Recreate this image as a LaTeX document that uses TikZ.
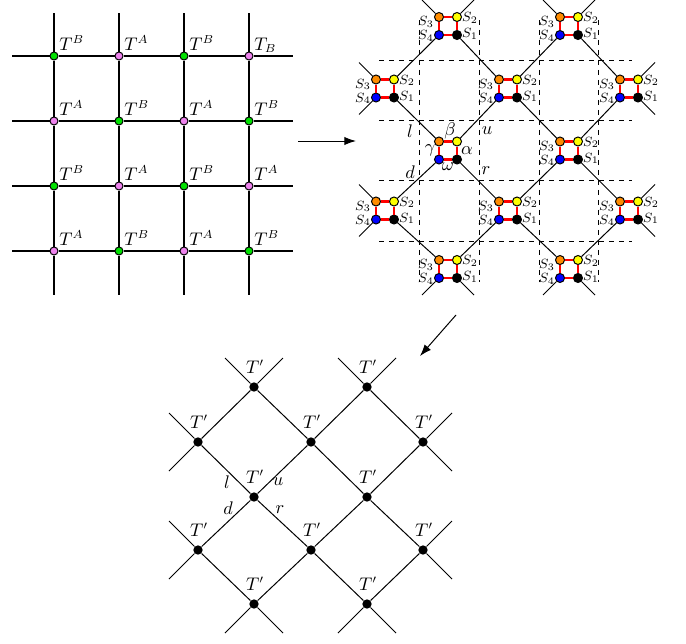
\documentclass[tikz,border=0pt]{standalone}
\usetikzlibrary{arrows.meta}
\definecolor{pinkc}{RGB}{238,130,238}
\definecolor{greenc}{RGB}{0,225,0}
\definecolor{orangec}{RGB}{255,140,0}
\definecolor{yellowc}{RGB}{255,255,0}
\begin{document}
\begin{tikzpicture}[x=0.6pt,y=-0.6pt,
  gline/.style={line width=0.75pt},
  lline/.style={line width=0.6pt},
  redl/.style={draw=red,line width=1.3pt},
  gnode/.style={circle,draw=black,line width=0.6pt,inner sep=0pt,minimum size=4.8pt},
  cnode/.style={circle,draw=black,line width=0.6pt,inner sep=0pt,minimum size=5.4pt},
  bnode/.style={circle,fill=black,inner sep=0pt,minimum size=5.6pt},
  tlab/.style={inner sep=0pt,anchor=base west,font=\fontsize{10.5}{12}\selectfont},
  plab/.style={inner sep=0pt,anchor=base,font=\fontsize{10.5}{12}\selectfont},
  glab/.style={inner sep=0pt,font=\fontsize{10.5}{12}\selectfont},
  slab/.style={inner sep=0pt,font=\footnotesize},
  dline/.style={dashed,line width=0.5pt},
  arr/.style={-{Latex[length=7pt,width=5pt]},line width=0.6pt}]
\useasboundingbox (0,0) rectangle (686,644);

% ---------- left grid ----------
\foreach \i/\x in {0/54,1/119,2/184,3/249}{
  \foreach \j/\y in {0/56,1/121,2/186,3/251}{
    \pgfmathtruncatemacro\p{mod(\i+\j,2)}
    \ifnum\p=0
      \node[gnode,fill=greenc] (g\i\j) at (\x,\y) {};
    \else
      \node[gnode,fill=pinkc] (g\i\j) at (\x,\y) {};
    \fi
  }
}
\foreach \j/\y in {0/56,1/121,2/186,3/251}{
  \coordinate (gl\j) at (12,\y);
  \coordinate (gr\j) at (293,\y);
  \draw[gline] (gl\j) -- (g0\j) -- (g1\j) -- (g2\j) -- (g3\j) -- (gr\j);
}
\foreach \i/\x in {0/54,1/119,2/184,3/249}{
  \coordinate (gt\i) at (\x,13);
  \coordinate (gb\i) at (\x,295);
  \draw[gline] (gt\i) -- (g\i0) -- (g\i1) -- (g\i2) -- (g\i3) -- (gb\i);
}
\foreach \n/\x/\y/\t in {00/54/56/T^B,10/119/56/T^A,20/184/56/T^B,30/249/56/T_B,
  01/54/121/T^A,11/119/121/T^B,21/184/121/T^A,31/249/121/T^B,
  02/54/186/T^B,12/119/186/T^A,22/184/186/T^B,32/249/186/T^A,
  03/54/251/T^A,13/119/251/T^B,23/184/251/T^A,33/249/251/T^B}{
  \node[tlab] (lg\n) at (\x+5,\y-6) {$\t$};
}

% ---------- arrows ----------
\coordinate (a1s) at (298,141);
\coordinate (a1e) at (356,141);
\draw[arr] (a1s) -- (a1e);
\coordinate (a2s) at (456,315);
\coordinate (a2e) at (420,356);
\draw[arr] (a2s) -- (a2e);

% ---------- top right: dashed grid ----------
\foreach \y in {60,120,180,241}{
  \coordinate (dhl\y) at (379,\y);
  \coordinate (dhr\y) at (632,\y);
  \draw[dline] (dhl\y) -- (dhr\y);
}
\foreach \x in {419,479,539,598}{
  \coordinate (dvt\x) at (\x,20);
  \coordinate (dvb\x) at (\x,282);
  \draw[dline] (dvt\x) -- (dvb\x);
}

% ---------- top right: clusters ----------
\foreach \n/\cx/\cy in {10/448/26,30/569/26,01/385/88.5,21/508/88.5,41/629/88.5,
  12/448/150.5,32/569/150.5,03/385/210.5,23/508/210.5,43/629/210.5,14/448/269,34/569/269}{
  \node[cnode,fill=orangec] (qo\n) at (\cx-9,\cy-9) {};
  \node[cnode,fill=yellowc] (qy\n) at (\cx+9,\cy-9) {};
  \node[cnode,fill=blue] (qb\n) at (\cx-9,\cy+9) {};
  \node[cnode,fill=black] (qk\n) at (\cx+9,\cy+9) {};
  \draw[redl] (qo\n) -- (qy\n);
  \draw[redl] (qy\n) -- (qk\n);
  \draw[redl] (qk\n) -- (qb\n);
  \draw[redl] (qb\n) -- (qo\n);
}
\foreach \n/\cx/\cy in {10/448/26,30/569/26,01/385/88.5,21/508/88.5,41/629/88.5,
  32/569/150.5,03/385/210.5,23/508/210.5,43/629/210.5,14/448/269,34/569/269}{
  \node[slab] (s3\n) at (\cx-22,\cy-4) {$S_3$};
  \node[slab] (s4\n) at (\cx-22,\cy+10) {$S_4$};
  \node[slab] (s2\n) at (\cx+22,\cy-8) {$S_2$};
  \node[slab] (s1\n) at (\cx+22,\cy+8) {$S_1$};
}
\foreach \a/\b in {10/21,30/41,01/12,21/32,12/23,32/43,03/14,23/34}{
  \draw[lline] (qk\a) -- (qo\b);
}
\foreach \a/\b in {01/10,21/30,12/21,32/41,03/12,23/32,14/23,34/43}{
  \draw[lline] (qy\a) -- (qb\b);
}
\foreach \n in {10,30,01,03}{
  \coordinate (fo\n) at ([shift={(-17,-17)}]qo\n.center);
  \draw[lline] (qo\n) -- (fo\n);
}
\foreach \n in {10,30,41,43}{
  \coordinate (fy\n) at ([shift={(17,-17)}]qy\n.center);
  \draw[lline] (qy\n) -- (fy\n);
}
\foreach \n in {01,03,14,34}{
  \coordinate (fb\n) at ([shift={(-17,17)}]qb\n.center);
  \draw[lline] (qb\n) -- (fb\n);
}
\foreach \n in {41,43,14,34}{
  \coordinate (fk\n) at ([shift={(17,17)}]qk\n.center);
  \draw[lline] (qk\n) -- (fk\n);
}
% central labels
\node[glab] (gbeta) at (450,131) {$\beta$};
\node[glab] (ggamma) at (430,150) {$\gamma$};
\node[glab] (galpha) at (467,151) {$\alpha$};
\node[glab] (gomega) at (448,167) {$\omega$};
\node[glab] (ql) at (410,131) {$l$};
\node[glab] (qu) at (487,131) {$u$};
\node[glab] (qd) at (410,172) {$d$};
\node[glab] (qr) at (486,171) {$r$};

% ---------- bottom ----------
\foreach \n/\x/\y in {10/254/387,30/367/387,01/198/442,21/311/442,41/423/442,
  12/254/497,32/367/497,03/198/550,23/311/550,43/423/550,14/254/604,34/367/604}{
  \node[bnode] (p\n) at (\x,\y) {};
  \node[plab] (pl\n) at (\x+1,\y-14) {$T'$};
}
\foreach \a/\b in {10/21,30/41,01/12,21/32,12/23,32/43,03/14,23/34,
  01/10,21/30,12/21,32/41,03/12,23/32,14/23,34/43}{
  \draw[lline] (p\a) -- (p\b);
}
\foreach \n in {10,30,01,03}{
  \coordinate (eo\n) at ([shift={(-29,-29)}]p\n.center);
  \draw[lline] (p\n) -- (eo\n);
}
\foreach \n in {10,30,41,43}{
  \coordinate (ey\n) at ([shift={(29,-29)}]p\n.center);
  \draw[lline] (p\n) -- (ey\n);
}
\foreach \n in {01,03,14,34}{
  \coordinate (eb\n) at ([shift={(-29,29)}]p\n.center);
  \draw[lline] (p\n) -- (eb\n);
}
\foreach \n in {41,43,14,34}{
  \coordinate (ek\n) at ([shift={(29,29)}]p\n.center);
  \draw[lline] (p\n) -- (ek\n);
}
\node[glab] (bl) at (227,482) {$l$};
\node[glab] (bu) at (278,482) {$u$};
\node[glab] (bd) at (228,508) {$d$};
\node[glab] (br) at (280,510) {$r$};
\end{tikzpicture}
\end{document}
